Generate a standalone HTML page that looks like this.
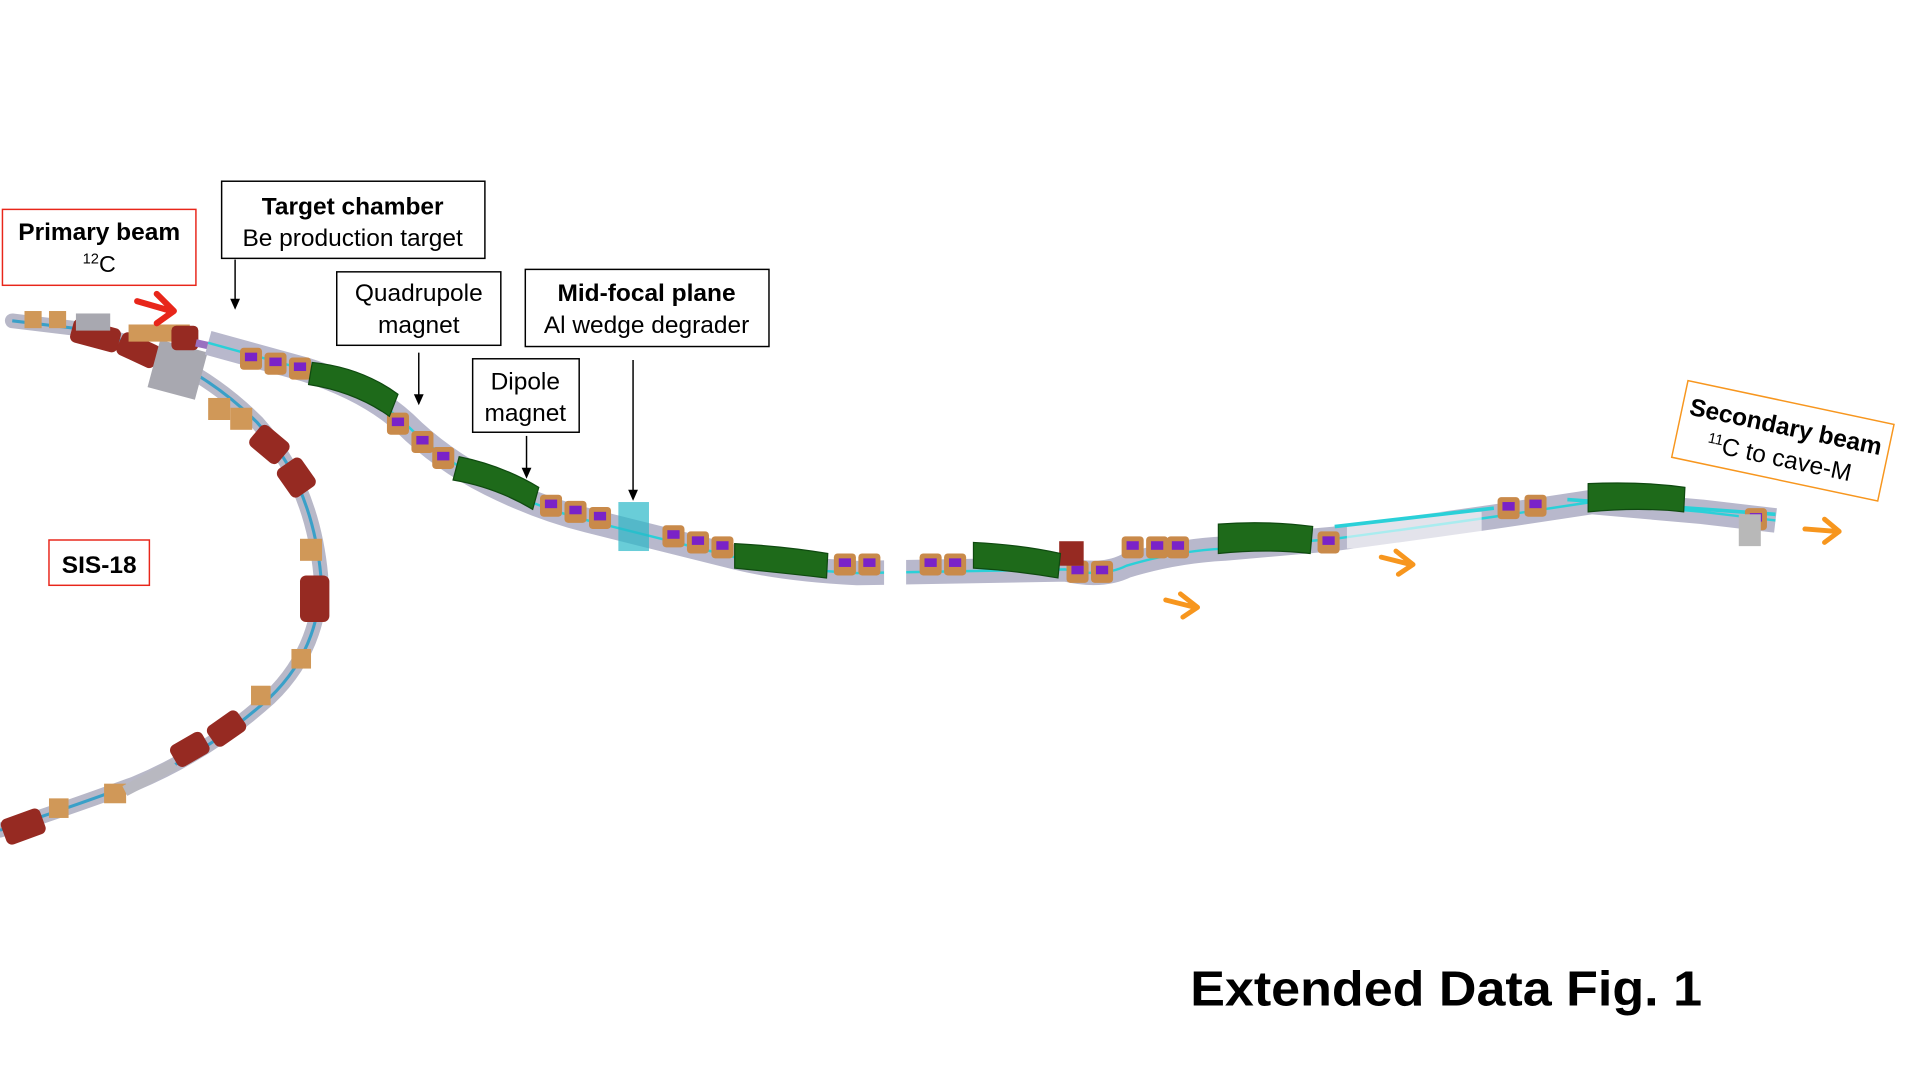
<!DOCTYPE html>
<html><head><meta charset="utf-8"><style>
html,body{margin:0;padding:0;background:#fff;}
svg{display:block}
text{font-family:"Liberation Sans",sans-serif;fill:#000}
</style></head><body>
<svg width="1920" height="1080" viewBox="0 0 1568 882" xmlns="http://www.w3.org/2000/svg">
<defs>
<g id="quad"><rect x="-9" y="-8" width="18" height="18" rx="3" fill="#c98a4a"/><rect x="-5" y="-4" width="10" height="7" fill="#7a22c8"/></g>
</defs>

<!-- SIS-18 curve -->
<path d="M10,262 L60,268 Q150,285 210,345 Q255,395 262,470 Q262,530 220,570 Q170,615 110,640 Q50,662 0,678" fill="none" stroke="#b8b8c8" stroke-width="12" stroke-linecap="round"/>
<path d="M10,262 L60,268 Q150,285 210,345 Q255,395 262,470 Q262,530 220,570 Q170,615 110,640 Q50,662 0,678" fill="none" stroke="#3aa0c8" stroke-width="2.5"/>
<g fill="#962a22">
<rect x="58" y="264" width="40" height="20" rx="5" transform="rotate(15 78 274)"/>
<rect x="96" y="276" width="34" height="20" rx="5" transform="rotate(25 113 286)"/>
<rect x="205" y="352" width="30" height="22" rx="5" transform="rotate(40 220 363)"/>
<rect x="228" y="378" width="28" height="24" rx="5" transform="rotate(55 242 390)"/>
<rect x="245" y="470" width="24" height="38" rx="5"/>
<rect x="170" y="585" width="30" height="20" rx="5" transform="rotate(-35 185 595)"/>
<rect x="140" y="602" width="30" height="20" rx="5" transform="rotate(-30 155 612)"/>
<rect x="2" y="664" width="34" height="22" rx="5" transform="rotate(-20 19 675)"/>
</g>
<g fill="#d09858">
<rect x="20" y="254" width="14" height="14"/><rect x="40" y="254" width="14" height="14"/>
<rect x="170" y="325" width="18" height="18"/><rect x="188" y="333" width="18" height="18"/>
<rect x="245" y="440" width="18" height="18"/><rect x="238" y="530" width="16" height="16"/>
<rect x="205" y="560" width="16" height="16"/><rect x="85" y="640" width="18" height="16"/><rect x="40" y="652" width="16" height="16"/>
</g>
<rect x="125" y="282" width="40" height="40" fill="#a8a8b0" transform="rotate(15 145 302)"/>
<rect x="62" y="256" width="28" height="14" fill="#a8a8b0"/>
<path d="M100,642 L140,620 L146,628 L104,650 Z" fill="#b8b8c0"/>

<rect x="105" y="265" width="50" height="14" fill="#d09858"/>
<rect x="140" y="266" width="22" height="20" rx="4" fill="#962a22"/>
<path d="M160,280 L250,300" stroke="#9a70c0" stroke-width="6"/>

<!-- main beamline base -->
<path d="M170,280 L250,302 Q300,318 330,345 Q360,375 400,395 Q440,415 480,425 Q540,440 600,455 Q640,465 700,468 L870,465 Q900,472 920,462 Q960,450 1000,448 L1090,440 Q1150,432 1220,422 L1300,410 L1390,418 L1450,425" fill="none" stroke="#b8b8cc" stroke-width="20" stroke-linejoin="round"/>
<path d="M170,280 L250,302 Q300,318 330,345 Q360,375 400,395 Q440,415 480,425 Q540,440 600,455 Q640,465 700,468 L870,465 Q900,472 920,462 Q960,450 1000,448 L1090,440 Q1150,432 1220,422 L1300,410 L1390,418 L1450,425" fill="none" stroke="#2ad0d8" stroke-width="2"/>
<rect x="722" y="452" width="18" height="30" fill="#fff"/>
<rect x="1100" y="418" width="110" height="30" fill="#fff" opacity="0.6"/>
<path d="M1090,430 L1220,415" stroke="#2ad0d8" stroke-width="3"/>
<path d="M1280,408 L1450,420" stroke="#2ad0d8" stroke-width="3"/>

<g>
<use href="#quad" x="205" y="292"/><use href="#quad" x="225" y="296"/><use href="#quad" x="245" y="300"/>
<use href="#quad" x="325" y="345"/><use href="#quad" x="345" y="360"/><use href="#quad" x="362" y="373"/>
<use href="#quad" x="450" y="412"/><use href="#quad" x="470" y="417"/><use href="#quad" x="490" y="422"/>
<use href="#quad" x="550" y="437"/><use href="#quad" x="570" y="442"/><use href="#quad" x="590" y="446"/>
<use href="#quad" x="690" y="460"/><use href="#quad" x="710" y="460"/>
<use href="#quad" x="760" y="460"/><use href="#quad" x="780" y="460"/>
<use href="#quad" x="880" y="466"/><use href="#quad" x="900" y="466"/>
<use href="#quad" x="925" y="446"/><use href="#quad" x="945" y="446"/><use href="#quad" x="962" y="446"/>
<use href="#quad" x="1085" y="442"/>
<use href="#quad" x="1232" y="414"/><use href="#quad" x="1254" y="412"/>
<use href="#quad" x="1434" y="423"/>
</g>
<rect x="1420" y="420" width="18" height="26" fill="#b8b8b8"/>
<rect x="865" y="442" width="20" height="20" fill="#962a22"/>
<rect x="505" y="410" width="25" height="40" fill="#2ab8c8" opacity="0.7"/>

<g fill="#1e6a1a" stroke="#0f4a10" stroke-width="1">
<path d="M255,296 Q295,300 325,322 L318,340 Q290,320 252,314 Z"/>
<path d="M375,373 Q410,380 440,398 L435,416 Q405,398 370,392 Z"/>
<path d="M600,444 Q640,446 676,452 L675,472 Q640,468 600,464 Z"/>
<path d="M795,443 Q835,445 866,452 L864,472 Q830,466 795,464 Z"/>
<path d="M995,428 Q1035,425 1072,430 L1070,452 Q1035,448 995,452 Z"/>
<path d="M1297,395 Q1340,393 1376,398 L1375,418 Q1340,414 1297,418 Z"/>
</g>

<path d="M112,246 L140,254 M128,240 L142,254 L128,264" stroke="#e8261a" stroke-width="5" fill="none" stroke-linecap="round" stroke-linejoin="round"/>
<g stroke="#f7961e" stroke-width="4" fill="none" stroke-linecap="round" stroke-linejoin="round">
<path d="M952,490 L976,496 M964,485 L978,496 L966,504"/>
<path d="M1128,455 L1152,461 M1140,450 L1154,461 L1142,469"/>
<path d="M1474,432 L1500,434 M1490,424 L1502,434 L1490,443"/>
</g>

<g stroke="#000" stroke-width="1.2">
<line x1="192" y1="212" x2="192" y2="246"/><line x1="342" y1="288" x2="342" y2="324"/>
<line x1="430" y1="356" x2="430" y2="384"/><line x1="517" y1="294" x2="517" y2="402"/>
</g>
<g fill="#000">
<path d="M188,244 L196,244 L192,253Z"/><path d="M338,322 L346,322 L342,331Z"/>
<path d="M426,382 L434,382 L430,391Z"/><path d="M513,400 L521,400 L517,409Z"/>
</g>

<rect x="2" y="171" width="158" height="62" fill="#fff" stroke="#e8261a" stroke-width="1.2"/>
<text x="81" y="196" font-size="20" font-weight="bold" text-anchor="middle">Primary beam</text>
<text x="81" y="222" font-size="19" text-anchor="middle"><tspan font-size="12" dy="-7">12</tspan><tspan dy="7">C</tspan></text>

<rect x="181" y="148" width="215" height="63" fill="#fff" stroke="#000" stroke-width="1.2"/>
<text x="288" y="175" font-size="20" font-weight="bold" text-anchor="middle">Target chamber</text>
<text x="288" y="201" font-size="20" text-anchor="middle">Be production target</text>

<rect x="275" y="222" width="134" height="60" fill="#fff" stroke="#000" stroke-width="1.2"/>
<text x="342" y="246" font-size="20" text-anchor="middle">Quadrupole</text>
<text x="342" y="272" font-size="20" text-anchor="middle">magnet</text>

<rect x="429" y="220" width="199" height="63" fill="#fff" stroke="#000" stroke-width="1.2"/>
<text x="528" y="246" font-size="20" font-weight="bold" text-anchor="middle">Mid-focal plane</text>
<text x="528" y="272" font-size="20" text-anchor="middle">Al wedge degrader</text>

<rect x="386" y="293" width="87" height="60" fill="#fff" stroke="#000" stroke-width="1.2"/>
<text x="429" y="318" font-size="20" text-anchor="middle">Dipole</text>
<text x="429" y="344" font-size="20" text-anchor="middle">magnet</text>

<rect x="40" y="441" width="82" height="37" fill="#fff" stroke="#e8261a" stroke-width="1.2"/>
<text x="81" y="468" font-size="20" font-weight="bold" text-anchor="middle">SIS-18</text>

<g transform="rotate(12 1456 360)">
<rect x="1370" y="328" width="172" height="64" fill="#fff" stroke="#f7961e" stroke-width="1.2"/>
<text x="1456" y="355" font-size="20" font-weight="bold" text-anchor="middle">Secondary beam</text>
<text x="1456" y="381" font-size="20" text-anchor="middle"><tspan font-size="12" dy="-7">11</tspan><tspan dy="7">C to cave-M</tspan></text>
</g>

<text x="972" y="821" font-size="40" font-weight="bold" textLength="418" lengthAdjust="spacingAndGlyphs">Extended Data Fig. 1</text>
</svg>
</body></html>
